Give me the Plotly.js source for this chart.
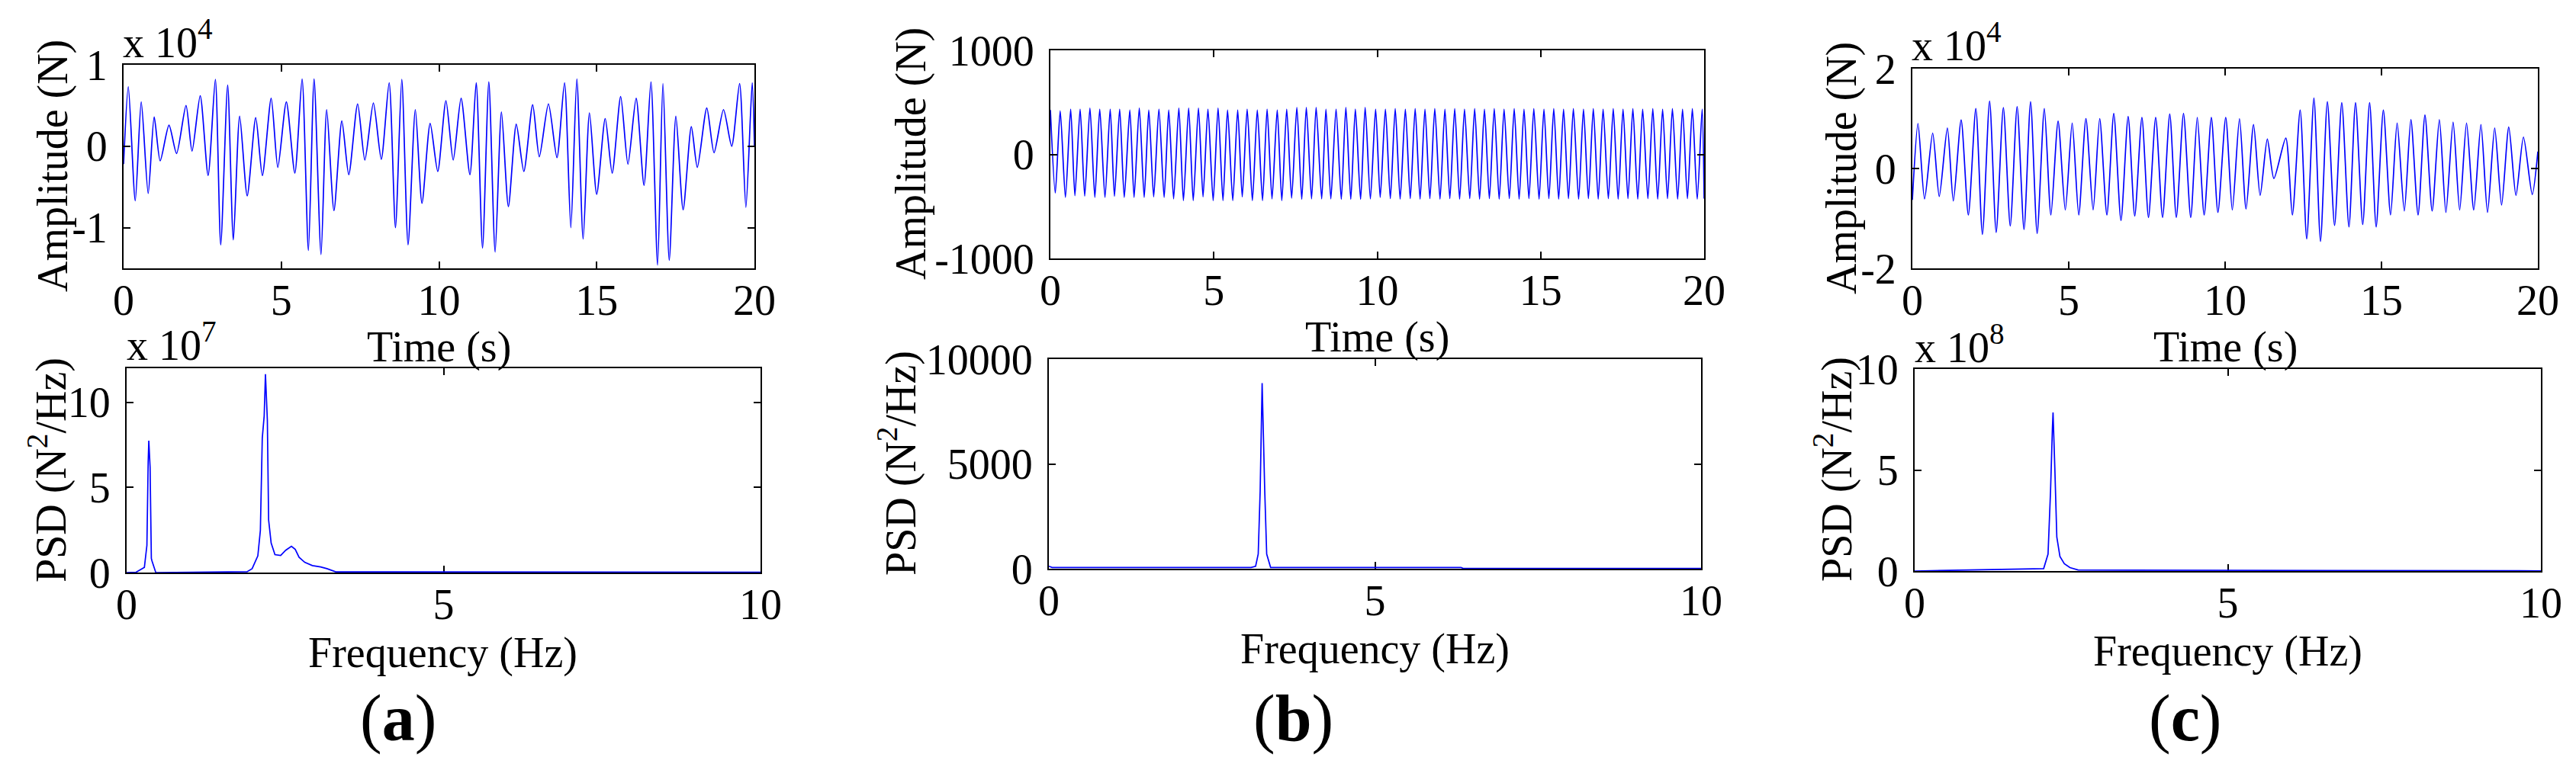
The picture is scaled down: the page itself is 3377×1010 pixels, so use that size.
<!DOCTYPE html>
<html>
<head>
<meta charset="utf-8">
<script src="https://cdn.plot.ly/plotly-3.0.1.min.js"></script>
<style>html,body{margin:0;padding:0;background:#fff;}#chart{width:3377px;height:1010px;}</style>
</head>
<body>
<div id="chart"></div>
<script>
// ---------------- DATA ----------------
// Panel (a) – time history, amplitude in units of 1e4 N
const aTime = [0,0.15,0.37,0.56,0.78,0.97,1.16,1.44,1.68,1.98,2.17,2.43,2.68,2.91,3.08,3.30,3.48,3.68,3.92,4.19,4.40,4.68,4.89,5.16,5.43,5.66,5.86,6.04,6.26,6.44,6.67,6.92,7.14,7.42,7.65,7.92,8.17,8.42,8.62,8.82,9.02,9.25,9.46,9.72,9.96,10.22,10.45,10.70,10.98,11.18,11.38,11.58,11.78,11.98,12.20,12.45,12.69,12.97,13.18,13.47,13.74,13.98,14.18,14.37,14.57,14.77,15.00,15.27,15.49,15.76,15.99,16.25,16.50,16.72,16.93,17.10,17.30,17.51,17.74,18.00,18.19,18.49,18.72,19.02,19.28,19.53,19.73,19.93,20.0];
const aAmp = [-0.22,0.73,-0.67,0.545,-0.58,0.36,-0.18,0.26,-0.09,0.50,-0.06,0.62,-0.36,0.82,-1.21,0.75,-1.15,0.37,-0.61,0.35,-0.36,0.59,-0.26,0.545,-0.33,0.825,-1.28,0.825,-1.33,0.45,-0.79,0.31,-0.35,0.52,-0.17,0.53,-0.16,0.78,-1.0,0.82,-1.21,0.45,-0.70,0.28,-0.31,0.56,-0.17,0.59,-0.35,0.78,-1.25,0.79,-1.30,0.42,-0.74,0.27,-0.31,0.51,-0.13,0.52,-0.14,0.78,-1.0,0.825,-1.14,0.41,-0.59,0.34,-0.33,0.61,-0.22,0.59,-0.48,0.79,-1.46,0.77,-1.40,0.37,-0.78,0.24,-0.26,0.47,-0.08,0.45,0.0,0.77,-0.75,0.78,0.0];
// Panel (a) – PSD, in units of 1e7 N^2/Hz
const aFreq = [0,0.15,0.28,0.32,0.34,0.35,0.37,0.39,0.40,0.46,1.90,1.98,2.07,2.11,2.14,2.17,2.19,2.22,2.24,2.28,2.34,2.43,2.51,2.60,2.66,2.72,2.81,2.93,3.06,3.16,3.30,10];
const aPSD  = [0,0.02,0.3,1.6,6.5,7.75,6.2,0.83,0.68,0,0.05,0.23,0.98,2.48,7.9,9.2,11.65,8.96,3.09,1.73,1.05,1.0,1.31,1.54,1.36,0.9,0.6,0.41,0.33,0.23,0.04,0.02];

// Panel (b) – time history, amplitude in N
const bTime = [0,0.15,0.30,0.46,0.62,0.75,0.91,1.05,1.21,1.36,1.51,1.67,1.83,1.96,2.12,2.26,2.43,2.56,2.72,2.87,3.01,3.16,3.32,3.48,3.62,3.77,3.93,4.07,4.23,4.37,4.53,4.67,4.82,4.98,5.13,5.28,5.42,5.58,5.73,5.87,6.02,6.18,6.33,6.49,6.63,6.78,6.94,7.08,7.23,7.38,7.54,7.69,7.83,7.99,8.13,8.30,8.43,8.58,8.74,8.90,9.04,9.19,9.33,9.49,9.63,9.79,9.95,10.09,10.25,10.40,10.55,10.70,10.86,11.01,11.16,11.31,11.46,11.61,11.76,11.92,12.07,12.22,12.37,12.52,12.67,12.83,12.98,13.13,13.28,13.43,13.58,13.73,13.88,14.04,14.19,14.34,14.49,14.64,14.79,14.95,15.10,15.25,15.40,15.55,15.70,15.85,16.00,16.16,16.31,16.46,16.61,16.76,16.91,17.07,17.22,17.37,17.52,17.67,17.82,17.97,18.12,18.28,18.43,18.58,18.73,18.88,19.03,19.19,19.34,19.49,19.64,19.79,19.94,20.0];
const bAmp = [427,-371,418,-413,435,-396,435,-400,447,-413,435,-413,435,-403,435,-413,427,-413,447,-413,427,-408,435,-413,427,-427,447,-444,447,-444,447,-408,435,-444,447,-444,427,-444,427,-408,435,-444,427,-444,435,-427,427,-444,435,-420,452,-432,452,-427,452,-427,435,-427,435,-432,452,-432,435,-432,452,-427,435,-413,435,-425,440,-430,435,-425,440,-430,435,-425,440,-430,435,-425,440,-430,435,-425,440,-430,435,-425,440,-430,435,-425,440,-430,435,-425,440,-430,435,-425,440,-430,435,-425,440,-430,435,-425,440,-430,435,-425,440,-430,435,-425,440,-430,435,-425,440,-430,435,-425,440,-430,435,-425,440,-430,435,-425,440,-430,435,-425,440,0];
// Panel (b) – PSD, N^2/Hz
const bFreq = [0,0.05,3.10,3.17,3.21,3.24,3.27,3.28,3.31,3.34,3.40,6.32,6.35,10];
const bPSD  = [120,60,60,120,700,3720,8850,7400,3720,700,60,60,15,15];

// Panel (c) – time history, amplitude in units of 1e4 N
const cTime = [0,0.18,0.39,0.65,0.86,1.12,1.31,1.56,1.79,2.03,2.24,2.47,2.68,2.91,3.13,3.35,3.57,3.78,3.99,4.22,4.43,4.66,4.89,5.11,5.32,5.55,5.78,5.99,6.22,6.44,6.67,6.90,7.11,7.34,7.55,7.78,8.00,8.23,8.44,8.67,8.90,9.11,9.33,9.56,9.77,10.02,10.23,10.46,10.67,10.91,11.12,11.35,11.56,11.94,12.15,12.40,12.61,12.84,13.05,13.27,13.50,13.73,13.96,14.17,14.40,14.62,14.83,15.06,15.29,15.50,15.73,15.94,16.17,16.39,16.62,16.85,17.06,17.29,17.50,17.72,17.95,18.18,18.39,18.62,18.84,19.07,19.30,19.54,19.82,20];
const cAmp = [-0.63,0.90,-0.61,0.71,-0.56,0.81,-0.65,0.97,-0.93,1.20,-1.32,1.35,-1.28,1.22,-1.15,1.24,-1.22,1.34,-1.30,1.20,-0.93,0.95,-0.83,0.91,-0.93,1.0,-0.83,1.0,-0.93,1.10,-1.04,1.04,-0.95,1.02,-0.98,1.02,-0.98,1.09,-0.98,1.10,-0.98,1.02,-0.93,1.02,-0.88,1.02,-0.83,1.0,-0.81,0.88,-0.54,0.59,-0.20,0.61,-0.93,1.17,-1.41,1.41,-1.46,1.34,-1.14,1.32,-1.17,1.32,-1.12,1.32,-1.17,1.17,-0.93,0.91,-0.85,0.98,-0.93,1.07,-0.85,0.98,-0.88,0.93,-0.83,0.91,-0.83,0.88,-0.88,0.81,-0.73,0.83,-0.54,0.63,-0.52,0.34];
// Panel (c) – PSD, in units of 1e8 N^2/Hz
const cFreq = [0,2.06,2.13,2.17,2.20,2.21,2.24,2.27,2.32,2.39,2.48,2.61,10];
const cPSD  = [0,0.12,0.84,3.97,7.1,7.85,4.93,1.68,0.72,0.36,0.17,0.05,0.01];

// Tick values / labels
const timeTicks = [0,5,10,15,20];
const timeTickText = ['0','5','10','15','20'];
const freqTicks = [0,5,10];
const freqTickText = ['0','5','10'];
const aAmpTicks = [-1,0,1];           const aAmpTickText = ['-1','0','1'];
const aPsdTicks = [0,5,10];           const aPsdTickText = ['0','5','10'];
const bAmpTicks = [-1000,0,1000];     const bAmpTickText = ['-1000','0','1000'];
const bPsdTicks = [0,5000,10000];     const bPsdTickText = ['0','5000','10000'];
const cAmpTicks = [-2,0,2];           const cAmpTickText = ['-2','0','2'];
const cPsdTicks = [0,5,10];           const cPsdTickText = ['0','5','10'];

const panelLabels = ['a','b','c'];
const timeTitle = 'Time (s)';
const freqTitle = 'Frequency (Hz)';
const ampTitle = 'Amplitude (N)';
const psdTitle = 'PSD (N<sup>2</sup>/Hz)';

// ---------------- LAYOUT ----------------
const W = 3377, H = 1010;
const FONT = '"Liberation Serif", "Times New Roman", Times, serif';
const FS = 56;
const px = x => x / W;
const py = y => 1 - y / H;
// plot boxes in pixels: [left, right, top, bottom]
const boxes = {
  aT: [162, 989, 85, 352],  aB: [166, 997, 483, 751],
  bT: [1377, 2234, 66, 339], bB: [1375, 2230, 471, 746],
  cT: [2507, 3327, 90, 352], cB: [2510, 3331, 484, 749]
};
function axBase(extra) {
  return Object.assign({
    showline: true, mirror: 'ticks', linecolor: 'black', linewidth: 2,
    ticks: 'inside', ticklen: 9, tickwidth: 2, tickcolor: 'black',
    showgrid: false, zeroline: false, fixedrange: true,
    tickfont: {family: FONT, size: FS, color: 'black'}
  }, extra);
}
function xAx(b, range, tv, tt, anchor, layer) {
  return axBase({domain: [px(b[0]), px(b[1])], range: range, tickmode: 'array', tickvals: tv, ticktext: tt,
    anchor: anchor, ticklabelstandoff: -8, layer: layer || 'above traces'});
}
function yAx(b, range, tv, tt, anchor, layer) {
  return axBase({domain: [py(b[3]), py(b[2])], range: range, tickmode: 'array', tickvals: tv, ticktext: tt,
    anchor: anchor, ticklabelstandoff: 8, layer: layer || 'above traces'});
}

const line = {color: 'rgb(0,0,255)', width: 1.7};
const sline = {color: 'rgb(0,0,255)', width: 1.7, shape: 'spline', smoothing: 0.7};
const traces = [
  {x: aTime, y: aAmp, xaxis: 'x', yaxis: 'y', mode: 'lines', line: sline},
  {x: aFreq, y: aPSD, xaxis: 'x2', yaxis: 'y2', mode: 'lines', line: line},
  {x: bTime, y: bAmp, xaxis: 'x3', yaxis: 'y3', mode: 'lines', line: sline},
  {x: bFreq, y: bPSD, xaxis: 'x4', yaxis: 'y4', mode: 'lines', line: line},
  {x: cTime, y: cAmp, xaxis: 'x5', yaxis: 'y5', mode: 'lines', line: sline},
  {x: cFreq, y: cPSD, xaxis: 'x6', yaxis: 'y6', mode: 'lines', line: line}
];

function ann(text, x, y, opts) {
  return Object.assign({text: text, x: px(x), y: py(y), xref: 'paper', yref: 'paper', showarrow: false,
    xanchor: 'center', yanchor: 'middle', borderpad: 0, font: {family: FONT, size: FS, color: 'black'}}, opts || {});
}
const mulFont = {family: FONT, size: FS, color: 'black'};
const annotations = [
  // x-axis titles
  ann(timeTitle, 575, 456), ann(freqTitle, 580, 856),
  ann(timeTitle, 1805, 443), ann(freqTitle, 1802, 851),
  ann(timeTitle, 2917, 456), ann(freqTitle, 2920, 854),
  // y-axis titles
  ann(ampTitle, 70, 218, {textangle: -90}), ann(psdTitle, 63, 617, {textangle: -90}),
  ann(ampTitle, 1195, 202, {textangle: -90}), ann(psdTitle, 1177, 608, {textangle: -90}),
  ann(ampTitle, 2415, 221, {textangle: -90}), ann(psdTitle, 2404, 616, {textangle: -90}),
  // exponent multipliers
  ann('x 10<sup>4</sup>', 160, 88, {xanchor: 'left', yanchor: 'bottom', font: mulFont}),
  ann('x 10<sup>7</sup>', 165, 485, {xanchor: 'left', yanchor: 'bottom', font: mulFont}),
  ann('x 10<sup>4</sup>', 2505, 92, {xanchor: 'left', yanchor: 'bottom', font: mulFont}),
  ann('x 10<sup>8</sup>', 2509, 488, {xanchor: 'left', yanchor: 'bottom', font: mulFont}),
  // panel labels
  ann('(<b>' + panelLabels[0] + '</b>)', 522, 942, {font: {family: FONT, size: 86, color: 'black'}}),
  ann('(<b>' + panelLabels[1] + '</b>)', 1695, 942, {font: {family: FONT, size: 86, color: 'black'}}),
  ann('(<b>' + panelLabels[2] + '</b>)', 2864, 942, {font: {family: FONT, size: 86, color: 'black'}})
];

const layout = {
  width: W, height: H, margin: {l: 0, r: 0, t: 0, b: 0},
  paper_bgcolor: 'white', plot_bgcolor: 'white', showlegend: false,
  font: {family: FONT, size: FS, color: 'black'},
  xaxis:  xAx(boxes.aT, [0, 20], timeTicks, timeTickText, 'y'),
  yaxis:  yAx(boxes.aT, [-1.5, 1], aAmpTicks, aAmpTickText, 'x'),
  xaxis2: xAx(boxes.aB, [0, 10], freqTicks, freqTickText, 'y2', 'below traces'),
  yaxis2: yAx(boxes.aB, [0, 12], aPsdTicks, aPsdTickText, 'x2', 'below traces'),
  xaxis3: xAx(boxes.bT, [0, 20], timeTicks, timeTickText, 'y3'),
  yaxis3: yAx(boxes.bT, [-1000, 1000], bAmpTicks, bAmpTickText, 'x3'),
  xaxis4: xAx(boxes.bB, [0, 10], freqTicks, freqTickText, 'y4', 'below traces'),
  yaxis4: yAx(boxes.bB, [0, 10000], bPsdTicks, bPsdTickText, 'x4', 'below traces'),
  xaxis5: xAx(boxes.cT, [0, 20], timeTicks, timeTickText, 'y5'),
  yaxis5: yAx(boxes.cT, [-2, 2], cAmpTicks, cAmpTickText, 'x5'),
  xaxis6: xAx(boxes.cB, [0, 10], freqTicks, freqTickText, 'y6', 'below traces'),
  yaxis6: yAx(boxes.cB, [0, 10], cPsdTicks, cPsdTickText, 'x6', 'below traces'),
  annotations: annotations
};

Plotly.newPlot('chart', traces, layout, {staticPlot: true, displayModeBar: false});
</script>
</body>
</html>
